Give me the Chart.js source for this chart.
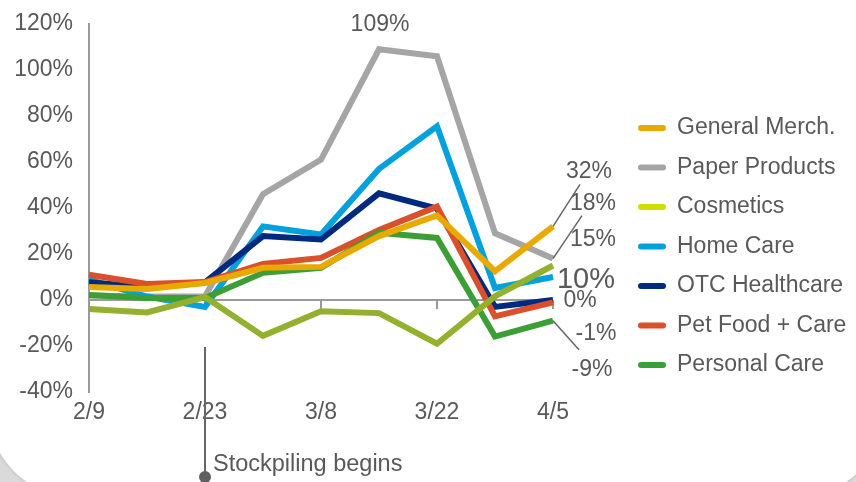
<!DOCTYPE html>
<html>
<head>
<meta charset="utf-8">
<script src="https://cdn.jsdelivr.net/npm/chart.js@4/dist/chart.umd.min.js"></script>
<style>
  html, body { margin: 0; padding: 0; }
  body { width: 856px; height: 482px; overflow: hidden; background: #dadada; position: relative; }
  #card { position: absolute; left: -12px; top: -120px; width: 897px; height: 618px; background: #fff; border-radius: 90px; box-shadow: 0 0 4px rgba(0,0,0,0.15); }
  #chart { position: absolute; left: 0; top: 0; }
</style>
</head>
<body>
<div id="card"></div>
<canvas id="chart" width="856" height="482"></canvas>
<script>
// weekly % change vs. last year, by category
const weeks = ['2/9', '2/16', '2/23', '3/1', '3/8', '3/15', '3/22', '3/29', '4/5'];
const generalMerch  = [5.7, 4.8, 7.4, 14, 14.4, 27.8, 36.8, 12.5, 32];
const paperProducts = [2, 1.5, 1.6, 46, 61, 109, 106, 29, 18];
const cosmetics     = [-3.9, -5.4, 1.3, -15.6, -4.9, -5.7, -19, 1.6, 15];
const homeCare      = [8.9, 1.5, -3, 32, 28.5, 57, 75.5, 5.2, 10];
const otcHealthcare = [7.7, 5.5, 7.7, 27.8, 26.3, 46.4, 39.7, -3, 0];
const petFood       = [11, 7, 7.8, 15.7, 18.3, 30.4, 40.6, -7.1, -1];
const personalCare  = [2.2, 0.9, 0.9, 11.8, 14, 29.2, 27, -15.9, -9];
const yTicks = [-40, -20, 0, 20, 40, 60, 80, 100, 120];
const stockpileWeek = '2/23';
const stockpileText = 'Stockpiling begins';

const FONT = '"Liberation Sans", Arial, sans-serif';
const GREY_TEXT = '#595959';

// where each end-of-line label sits, relative to the last point
const endLabels = {
  'General Merch.':  { dx: 36, dy: -55, lead: [27, -42] },
  'Paper Products':  { dx: 40, dy: -55, lead: [29, -43] },
  'Cosmetics':       { dx: 40, dy: -26 },
  'Home Care':       { dx: 33, dy: 3, size: 29 },
  'OTC Healthcare':  { dx: 27, dy: 1 },
  'Pet Food + Care': { dx: 43, dy: 31 },
  'Personal Care':   { dx: 39, dy: 49, lead: [26, 29] }
};

function series(label, data, color, order, legendColor) {
  return {
    label, data, order,
    borderColor: color,
    legendColor: legendColor || color,
    borderWidth: 6,
    borderJoinStyle: 'miter',
    borderCapStyle: 'butt',
    pointRadius: 0,
    tension: 0,
    fill: false
  };
}

const pct = v => Math.round(v) + '%';

const zeroLine = {
  id: 'zeroLine',
  beforeDatasetsDraw(chart) {
    const { ctx, chartArea, scales: { x, y } } = chart;
    const y0 = y.getPixelForValue(0);
    ctx.save();
    ctx.strokeStyle = '#9a9a9a';
    ctx.lineWidth = 2;
    ctx.beginPath();
    ctx.moveTo(chartArea.left, y0);
    ctx.lineTo(chartArea.right, y0);
    for (let i = 2; i < weeks.length; i += 2) {
      const px = x.getPixelForValue(i);
      ctx.moveTo(px, y0);
      ctx.lineTo(px, y0 + 9);
    }
    ctx.stroke();
    ctx.restore();
  }
};

const labelsAndLegend = {
  id: 'labelsAndLegend',
  afterDatasetsDraw(chart) {
    const { ctx, scales: { x } } = chart;
    ctx.save();
    ctx.fillStyle = GREY_TEXT;
    ctx.strokeStyle = '#666';
    ctx.lineWidth = 1.5;
    ctx.textAlign = 'center';
    ctx.textBaseline = 'middle';

    chart.data.datasets.forEach((ds, i) => {
      const pts = chart.getDatasetMeta(i).data;
      const last = pts[pts.length - 1];
      const cfg = endLabels[ds.label];
      const v = ds.data[ds.data.length - 1];
      if (cfg.lead) {
        ctx.beginPath();
        ctx.moveTo(last.x, last.y);
        ctx.lineTo(last.x + cfg.lead[0], last.y + cfg.lead[1]);
        ctx.stroke();
      }
      ctx.font = (cfg.size || 23) + 'px ' + FONT;
      ctx.fillText(pct(v), last.x + cfg.dx, last.y + cfg.dy);
    });

    // peak of paper products
    const paperIdx = chart.data.datasets.findIndex(d => d.label === 'Paper Products');
    const pData = chart.data.datasets[paperIdx].data;
    const peak = pData.indexOf(Math.max(...pData));
    const pk = chart.getDatasetMeta(paperIdx).data[peak];
    ctx.font = '23px ' + FONT;
    ctx.fillText(pct(pData[peak]), pk.x + 1, pk.y - 25);

    // legend on the right
    ctx.textAlign = 'left';
    chart.data.datasets.forEach((ds, i) => {
      const ly = 128 + i * 39.5;
      ctx.strokeStyle = ds.legendColor;
      ctx.lineWidth = 6;
      ctx.lineCap = 'round';
      ctx.beginPath();
      ctx.moveTo(641, ly);
      ctx.lineTo(663, ly);
      ctx.stroke();
      ctx.fillText(ds.label, 677, ly);
    });

    // stockpiling marker
    const sx = x.getPixelForValue(weeks.indexOf(stockpileWeek));
    ctx.strokeStyle = '#666';
    ctx.lineWidth = 2;
    ctx.lineCap = 'butt';
    ctx.beginPath();
    ctx.moveTo(sx, 347);
    ctx.lineTo(sx, 477);
    ctx.stroke();
    ctx.fillStyle = '#5f5f5f';
    ctx.beginPath();
    ctx.arc(sx, 477, 6, 0, Math.PI * 2);
    ctx.fill();
    ctx.fillStyle = GREY_TEXT;
    ctx.font = '23.5px ' + FONT;
    ctx.fillText(stockpileText, sx + 8, 465);
    ctx.restore();
  }
};

new Chart(document.getElementById('chart'), {
  type: 'line',
  data: {
    labels: weeks,
    datasets: [
      series('General Merch.', generalMerch, '#e8a900', 1),
      series('Paper Products', paperProducts, '#a5a5a5', 6),
      series('Cosmetics', cosmetics, '#93b02f', 0, '#cfdf00'),
      series('Home Care', homeCare, '#00a1dd', 5),
      series('OTC Healthcare', otcHealthcare, '#002a7d', 4),
      series('Pet Food + Care', petFood, '#d9502b', 3),
      series('Personal Care', personalCare, '#3c9f36', 2)
    ]
  },
  options: {
    responsive: false,
    animation: false,
    layout: { padding: { left: 0, right: 303, top: 24, bottom: 50 } },
    plugins: { legend: { display: false }, tooltip: { enabled: false } },
    scales: {
      x: {
        offset: false,
        grid: { display: false, drawTicks: false },
        border: { display: false },
        afterFit: s => { s.height = 40; },
        ticks: {
          autoSkip: false, maxRotation: 0, padding: 7,
          color: GREY_TEXT, font: { family: FONT, size: 23 },
          callback: (v, i) => i % 2 === 0 ? weeks[i] : ''
        }
      },
      y: {
        min: yTicks[0], max: yTicks[yTicks.length - 1],
        afterFit: s => { s.width = 89; s.paddingTop = 0; s.paddingBottom = 0; },
        afterBuildTicks: s => { s.ticks = yTicks.map(v => ({ value: v })); },
        grid: { display: false, drawTicks: false },
        border: { display: true, color: '#999', width: 2 },
        ticks: {
          padding: 16,
          color: GREY_TEXT, font: { family: FONT, size: 23 },
          callback: v => v + '%'
        }
      }
    }
  },
  plugins: [zeroLine, labelsAndLegend]
});
</script>
</body>
</html>
